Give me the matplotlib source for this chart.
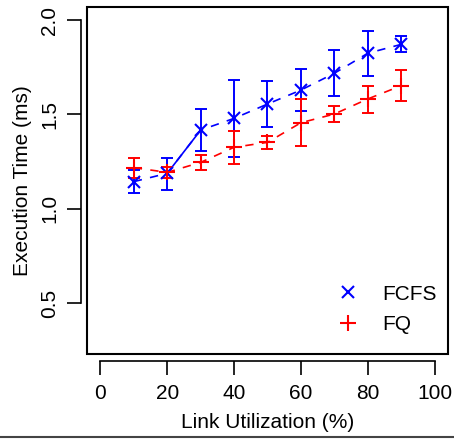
import matplotlib
matplotlib.use("Agg")
import matplotlib.pyplot as plt
from matplotlib.lines import Line2D
from matplotlib.patches import Rectangle
import numpy as np

plt.rcParams['font.family'] = ['Liberation Sans', 'DejaVu Sans']

utilization = [10, 20, 30, 40, 50, 60, 70, 80, 90]
fcfs_mean = [1.144, 1.188, 1.417, 1.479, 1.555, 1.629, 1.718, 1.824, 1.871]
fcfs_high = [1.206, 1.271, 1.530, 1.682, 1.677, 1.740, 1.840, 1.943, 1.917]
fcfs_low = [1.082, 1.100, 1.308, 1.276, 1.433, 1.520, 1.596, 1.705, 1.829]
fq_mean = [1.218, 1.193, 1.246, 1.326, 1.352, 1.456, 1.502, 1.582, 1.652]
fq_high = [1.267, 1.223, 1.287, 1.414, 1.387, 1.580, 1.545, 1.652, 1.734]
fq_low = [1.162, 1.162, 1.206, 1.237, 1.315, 1.334, 1.460, 1.509, 1.571]
xticks = [0, 20, 40, 60, 80, 100]
yticks = [0.5, 1.0, 1.5, 2.0]

W, H = 454, 441
fig = plt.figure(figsize=(W / 100, H / 100), dpi=100)
ax = fig.add_axes([87 / W, 87 / H, 361 / W, 347 / H])

blue = '#0000ff'
red = '#ff0000'
fs = 15

x = np.array(utilization)
fm, fh, fl = map(np.array, (fcfs_mean, fcfs_high, fcfs_low))
qm, qh, ql = map(np.array, (fq_mean, fq_high, fq_low))

dash = (0, (5, 5))
# connecting lines
ax.plot(x, fm, color=blue, lw=1.2, linestyle=dash, zorder=2)
ax.plot(x[1:3], fm[1:3], color=blue, lw=1.2, linestyle='-', zorder=2)
ax.plot(x, qm, color=red, lw=1.2, linestyle=dash, zorder=2)

ax.errorbar(x, fm, yerr=[fm - fl, fh - fm], fmt='none', ecolor=blue,
            elinewidth=1.4, capsize=4, capthick=1.4, zorder=3)
ax.errorbar(x, qm, yerr=[qm - ql, qh - qm], fmt='none', ecolor=red,
            elinewidth=1.4, capsize=4, capthick=1.4, zorder=3)
ax.plot(x, fm, linestyle='none', marker='x', markersize=9, mew=1.5,
        color=blue, zorder=4, label='FCFS')
ax.plot(x, qm, linestyle='none', marker='+', markersize=12, mew=1.5,
        color=red, zorder=4, label='FQ')

ax.set_xlim(-4, 104)
ax.set_ylim(0.231, 2.069)

# box
ax.add_patch(Rectangle((0, 0), 1, 1, transform=ax.transAxes, fill=False,
                       lw=1.5, edgecolor='black', clip_on=False, zorder=5))
for s in ('top', 'right'):
    ax.spines[s].set_visible(False)
ax.spines['bottom'].set_position(('outward', 4.8))
ax.spines['left'].set_position(('outward', 4.0))
ax.spines['bottom'].set_bounds(0, 100)
ax.spines['left'].set_bounds(0.5, 2.0)
for s in ('bottom', 'left'):
    ax.spines[s].set_linewidth(1.2)

ax.set_xticks(xticks)
ax.set_xticklabels([str(t) for t in xticks], fontsize=fs)
ax.set_yticks(yticks)
ax.set_yticklabels([f'{t:.1f}' for t in yticks], fontsize=fs, rotation=90,
                   va='center')
ax.tick_params(axis='both', length=10, width=1.2, direction='out')
ax.tick_params(axis='x', pad=7)
ax.tick_params(axis='y', pad=6)

ax.set_xlabel('Link Utilization (%)', fontsize=fs, labelpad=7)
ax.set_ylabel('Execution Time (ms)', fontsize=fs, labelpad=6)

ax.legend(loc='lower right', bbox_to_anchor=(1.022, 0.003), frameon=False,
          fontsize=fs, handlelength=1.4, handletextpad=0.97, labelspacing=0.55)

fig.add_artist(Line2D([0, 1], [1 - 437 / H, 1 - 437 / H], color='#444444',
                      lw=1.5, transform=fig.transFigure))

fig.savefig('out.png', dpi=100)
